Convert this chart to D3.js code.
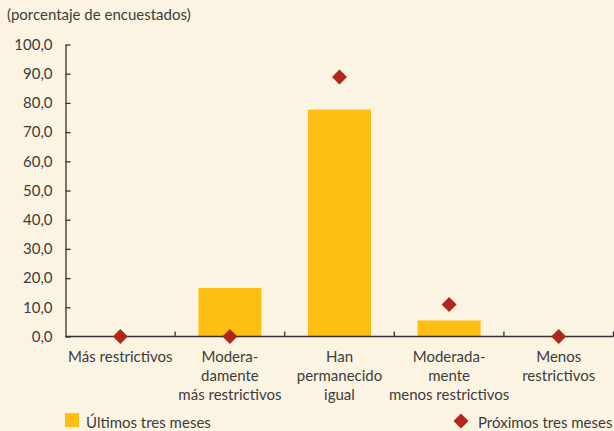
<!DOCTYPE html>
<html><head><meta charset="utf-8">
<script src="https://cdn.jsdelivr.net/npm/d3@7"></script>
<style>
body{margin:0;background:#FCF4E3;}
svg{display:block;}
text{font-family:Lato, "Open Sans", sans-serif;fill:#3c3c3c;}
</style></head>
<body><svg id="c" width="614" height="431"></svg>
<script>
const categories = [
  ["Más restrictivos"],
  ["Modera-","damente","más restrictivos"],
  ["Han","permanecido","igual"],
  ["Moderada-","mente","menos restrictivos"],
  ["Menos","restrictivos"]
];
const ultimos = [0.0, 16.6, 77.7, 5.5, 0.0];
const proximos = [0.0, 0.0, 88.9, 11.0, 0.0];
const yTicks = [0,10,20,30,40,50,60,70,80,90,100];
const seriesNames = ["Últimos tres meses", "Próximos tres meses"];
const unitLabel = "(porcentaje de encuestados)";

(function(){
const svg = d3.select("#c");
const W = 614, H = 431;
const mLeft = 65.5, mRight = 613.5, mTop = 44.5, mBottom = 336.5;
const fmt = d => d.toFixed(1).replace(".", ",");

const x = d3.scaleBand().domain(d3.range(categories.length)).range([mLeft, mRight]).paddingInner(0).paddingOuter(0);
const y = d3.scaleLinear().domain([0, 100]).range([mBottom, mTop]);

svg.append("rect").attr("width", W).attr("height", H).attr("fill", "#FCF4E3");

svg.append("text").attr("x", 7).attr("y", 20).attr("font-size", 15).text(unitLabel);

// bars
const bw = 63;
svg.selectAll("rect.bar").data(ultimos).enter().append("rect")
  .attr("class", "bar")
  .attr("x", (d, i) => x(i) + x.bandwidth() / 2 - bw / 2)
  .attr("width", bw)
  .attr("y", d => y(d))
  .attr("height", d => y(0) - y(d))
  .attr("fill", "#FDBF13");

// y axis
const yAxis = d3.axisLeft(y).tickValues(yTicks).tickSize(0).tickPadding(13).tickFormat(fmt);
const gy = svg.append("g").attr("transform", `translate(${mLeft},0)`).call(yAxis);
gy.select(".domain").attr("stroke", "#333").attr("stroke-width", 1.3);
gy.selectAll(".tick text").attr("font-size", 15).attr("fill", "#3c3c3c").attr("font-family", "Lato, sans-serif");
gy.selectAll(".tick").append("line").attr("x1", 0).attr("x2", 5).attr("stroke", "#333").attr("stroke-width", 1.3);

// x axis baseline and ticks
const xb = svg.append("g");
xb.append("line").attr("x1", mLeft).attr("x2", mRight).attr("y1", y(0)).attr("y2", y(0)).attr("stroke", "#333").attr("stroke-width", 1.3);
const bounds = d3.range(categories.length).map(i => x(i) + x.bandwidth());
xb.selectAll("line.t").data(bounds).enter().append("line")
  .attr("x1", d => d).attr("x2", d => d).attr("y1", y(0)).attr("y2", y(0) - 5)
  .attr("stroke", "#333").attr("stroke-width", 1.3);

// category labels
categories.forEach((lines, i) => {
  const t = svg.append("text").attr("text-anchor", "middle").attr("font-size", 15)
    .attr("x", x(i) + x.bandwidth() / 2).attr("y", 362);
  lines.forEach((l, k) => t.append("tspan").attr("x", x(i) + x.bandwidth() / 2).attr("dy", k === 0 ? 0 : 19).text(l));
});

// diamonds
const ds = 7.5;
const diamond = (cx, cy, s) => `M${cx},${cy - s}L${cx + s},${cy}L${cx},${cy + s}L${cx - s},${cy}Z`;
svg.selectAll("path.pt").data(proximos).enter().append("path")
  .attr("class", "pt")
  .attr("d", (d, i) => diamond(x(i) + x.bandwidth() / 2, y(d), ds))
  .attr("fill", "#B1261B");

// legend
svg.append("rect").attr("x", 65).attr("y", 413).attr("width", 14).attr("height", 14).attr("fill", "#FDBF13");
svg.append("text").attr("x", 86).attr("y", 428).attr("font-size", 15).text(seriesNames[0]);
svg.append("path").attr("d", diamond(461, 421, ds)).attr("fill", "#B1261B");
svg.append("text").attr("x", 478).attr("y", 428).attr("font-size", 15).text(seriesNames[1]);
})();
</script></body></html>
